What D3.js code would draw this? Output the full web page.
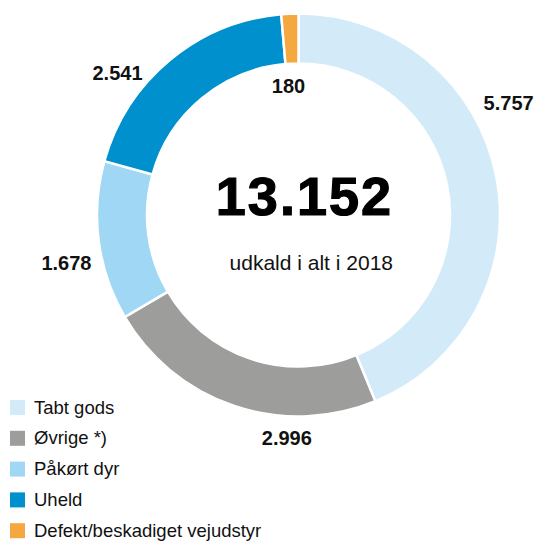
<!DOCTYPE html>
<html>
<head>
<meta charset="utf-8">
<script src="https://cdn.jsdelivr.net/npm/d3@7"></script>
<style>
  html, body { margin: 0; padding: 0; background: #fff; }
  svg { display: block; font-family: "Liberation Sans", Arial, sans-serif; }
</style>
</head>
<body>
<svg id="chart" width="537" height="543"></svg>
<script>
// Udkald fordelt på årsag, 2018
const categories = ["Tabt gods", "Øvrige *)", "Påkørt dyr", "Uheld", "Defekt/beskadiget vejudstyr"];
const values = [5757, 2996, 1678, 2541, 180];
const colors = ["#d3eaf9", "#9d9d9c", "#a0d7f5", "#0090ce", "#f5a840"];
const totalLabel = "13.152";
const subtitle = "udkald i alt i 2018";

// label placement around the ring: [angle in degrees clockwise from top, distance from centre]
const labelPlacement = [[62, 238], [183, 223], [258.3, 237], [308.1, 230], [355.6, 130]];

const svg = d3.select("#chart");
const cx = 298.5, cy = 215;
const outerR = 201.5, innerR = 151.5;

const fmt = d3.formatLocale({ decimal: ",", thousands: ".", grouping: [3], currency: ["", " kr."] }).format(",d");

const data = categories.map((c, i) => ({ cat: c, value: values[i], color: colors[i] }));

const pie = d3.pie().sort(null).value(d => d.value).startAngle(0).endAngle(2 * Math.PI);
const arc = d3.arc().innerRadius(innerR).outerRadius(outerR);

const g = svg.append("g").attr("transform", `translate(${cx},${cy})`);

g.selectAll("path.slice")
  .data(pie(data))
  .join("path")
  .attr("class", "slice")
  .attr("d", arc)
  .attr("fill", d => d.data.color)
  .attr("stroke", "#fff")
  .attr("stroke-width", 2.5)
  .attr("stroke-linejoin", "miter");

// value labels
g.selectAll("text.val")
  .data(pie(data))
  .join("text")
  .attr("class", "val")
  .attr("x", (d, i) => labelPlacement[i][1] * Math.sin(labelPlacement[i][0] * Math.PI / 180))
  .attr("y", (d, i) => -labelPlacement[i][1] * Math.cos(labelPlacement[i][0] * Math.PI / 180))
  .attr("dy", "0.36em")
  .attr("text-anchor", "middle")
  .attr("font-size", 20)
  .attr("font-weight", "bold")
  .attr("fill", "#111")
  .text(d => fmt(d.data.value));

// centre total
svg.append("text")
  .attr("x", 393).attr("y", 215)
  .attr("text-anchor", "end")
  .attr("font-size", 54)
  .attr("font-weight", "bold")
  .attr("letter-spacing", 2)
  .attr("fill", "#000")
  .attr("stroke", "#000")
  .attr("stroke-width", 1.2)
  .text(totalLabel);

svg.append("text")
  .attr("x", 393).attr("y", 270)
  .attr("text-anchor", "end")
  .attr("font-size", 21)
  .attr("fill", "#111")
  .text(subtitle);

// legend
const legend = svg.append("g").attr("transform", "translate(10,400)");
const rows = legend.selectAll("g.row")
  .data(data)
  .join("g")
  .attr("class", "row")
  .attr("transform", (d, i) => `translate(0,${i * 30.8})`);

rows.append("rect")
  .attr("width", 15).attr("height", 15)
  .attr("fill", d => d.color);

rows.append("text")
  .attr("x", 24).attr("y", 13.5)
  .attr("font-size", 18.5)
  .attr("fill", "#111")
  .text(d => d.cat);
</script>
</body>
</html>
